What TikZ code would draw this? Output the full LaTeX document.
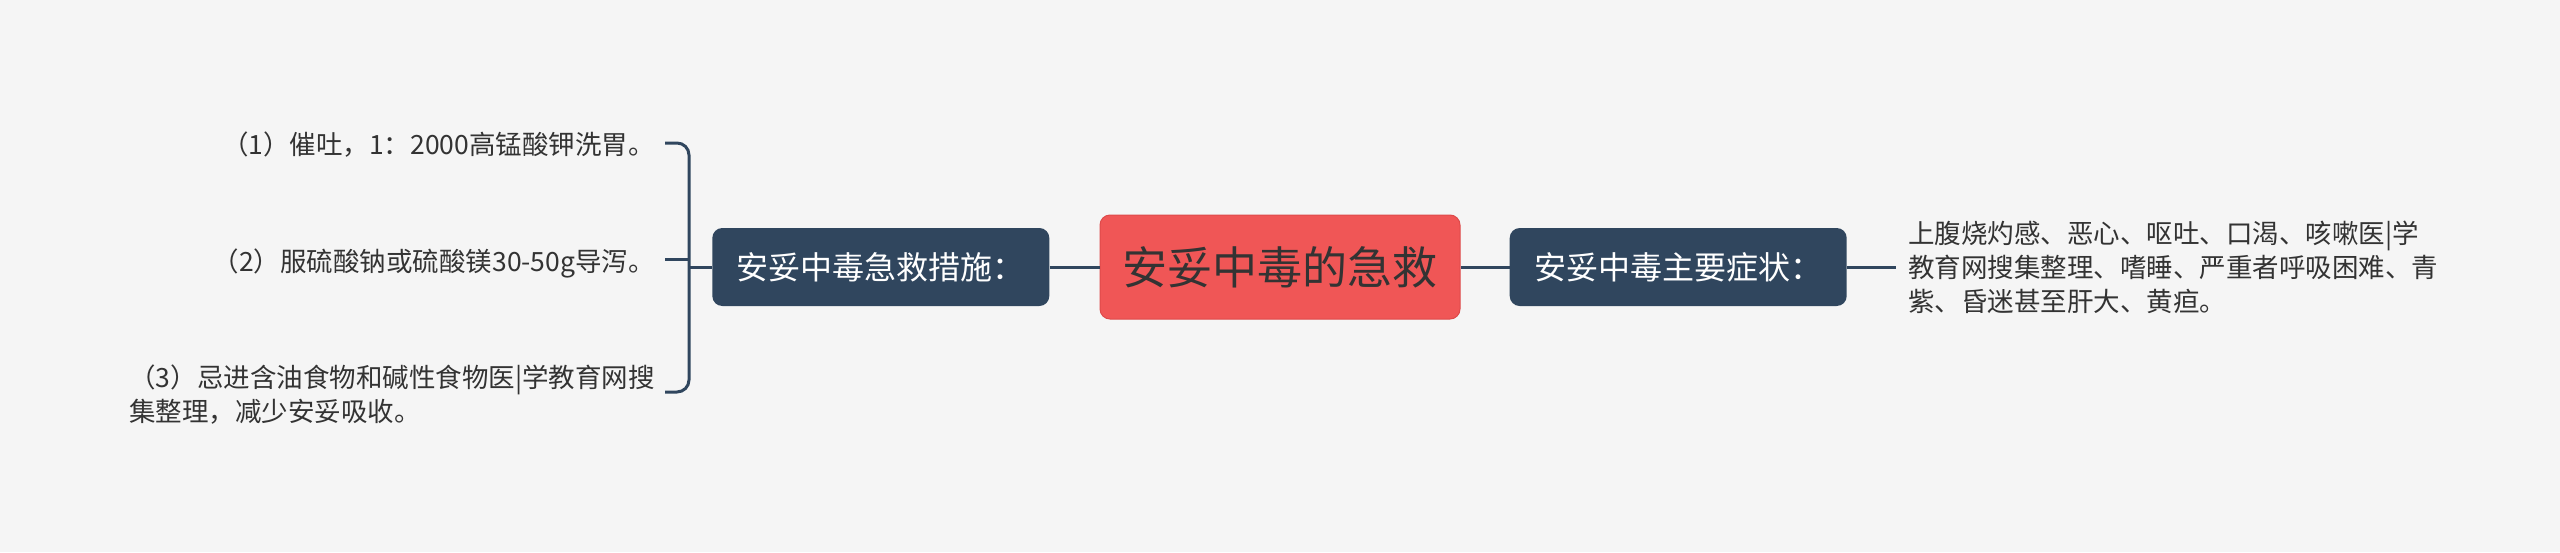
\documentclass[tikz,border=0pt]{standalone}
\usepackage{fontspec}
\setmainfont{Noto Sans CJK SC}
\usetikzlibrary{positioning}
\definecolor{bgGray}{HTML}{F5F5F5}
\definecolor{slate}{HTML}{30465E}
\definecolor{rootRed}{HTML}{F05656}
\definecolor{rootEdge}{HTML}{DE4A4A}
\definecolor{inkGray}{HTML}{333333}
\tikzset{
	mapcanvas/.style={x=1pt,y=-1pt},
	rootbox/.style={rectangle,rounded corners=10pt,draw=rootEdge,line width=1pt,
		fill=rootRed,text=inkGray,minimum width=360pt,minimum height=104pt,
		font=\fontsize{45}{54}\selectfont},
	branchbox/.style={rectangle,rounded corners=10pt,fill=slate,text=white,
		minimum width=337pt,minimum height=78pt,font=\fontsize{32}{38}\selectfont},
	leaftext/.style={inner sep=0pt,text=inkGray,align=left,
		font=\fontsize{26.5}{34}\selectfont},
	link/.style={draw=slate,line width=3pt}
}

\begin{document}
\begin{tikzpicture}[mapcanvas]
	\fill[bgGray] (0,0) rectangle (2560,552);
	\useasboundingbox (0,0) rectangle (2560,552);
	
	\node[rootbox] (root) at (1280,267) {安妥中毒的急救};
	\node[branchbox] (measures) [left=50pt of root] {安妥中毒急救措施：};
	\node[branchbox] (symptoms) [right=49pt of root] {安妥中毒主要症状：};
	\node[leaftext] (symtext) [right=61pt of symptoms] {上腹烧灼感、恶心、呕吐、口渴、咳嗽医|学\\教育网搜集整理、嗜睡、严重者呼吸困难、青\\紫、昏迷甚至肝大、黄疸。};
	
	\node[leaftext, anchor=east] (item1) at (655,145) {（1）催吐，1：2000高锰酸钾洗胃。};
	\node[leaftext, anchor=east] (item2) at (655,263) {（2）服硫酸钠或硫酸镁30-50g导泻。};
	\node[leaftext, anchor=east] (item3) at (655,395) {（3）忌进含油食物和碱性食物医|学教育网搜\\集整理，减少安妥吸收。};
	
	\coordinate (brtop) at (665,143);
	\coordinate (brbot) at (665,392);
	\coordinate (brmid) at (665,259);
	\coordinate (brjoin) at (689,267);
	
	\draw[link, rounded corners=12pt] (brtop) -| (brjoin) |- (brbot);
	\draw[link] (brmid) -- (brmid -| brjoin);
	\draw[link] (brjoin) -- (measures);
	\draw[link] (measures) -- (root);
	\draw[link] (root) -- (symptoms);
	\draw[link, shorten >=12pt] (symptoms) -- (symtext);
	
\end{tikzpicture}
\end{document}
